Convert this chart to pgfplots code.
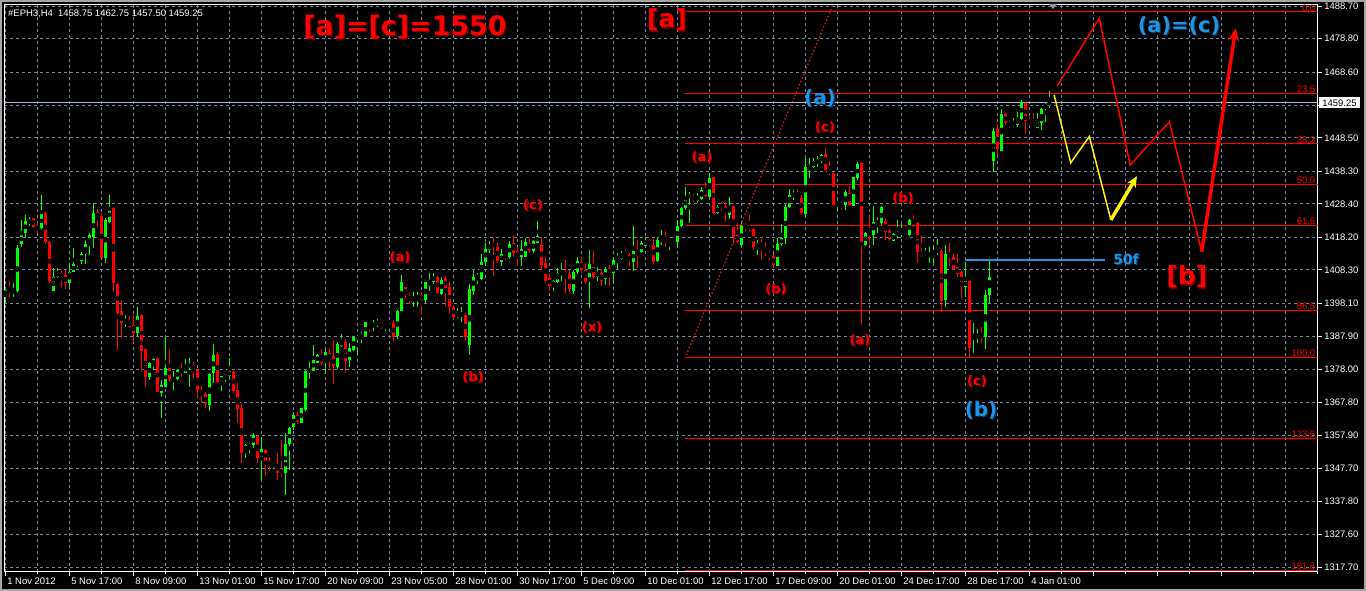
\documentclass[border=0pt]{standalone}
\usepackage{pgfplots}
\pgfplotsset{compat=1.18}
\usepackage{pgfplotstable}
\usepackage{fontspec}
\setmainfont{Liberation Sans}
\newfontfamily\wavefont{DejaVu Sans}
\usetikzlibrary{arrows.meta}

\definecolor{bull}{RGB}{0,255,0}
\definecolor{bear}{RGB}{255,0,0}
\definecolor{gridc}{RGB}{119,136,153}
\definecolor{wave}{RGB}{30,150,225}
\definecolor{waveshade}{RGB}{10,50,90}
\definecolor{shade}{RGB}{100,0,0}
\definecolor{bidc}{RGB}{170,185,205}
\definecolor{trendc}{RGB}{210,30,30}

% H4 bars, EPH3: index, open, high, low, close
\pgfplotstableread{
i o h l c
0 1400.6 1403.1 1398.1 1402.1
1 1402.3 1405.0 1400.1 1401.6
2 1401.3 1404.4 1399.9 1402.1
3 1401.9 1415.8 1401.6 1414.8
4 1416.1 1423.5 1415.3 1419.2
5 1419.4 1425.0 1417.9 1423.2
6 1422.4 1424.3 1421.6 1423.8
7 1424.0 1424.2 1421.1 1421.4
8 1421.4 1422.4 1419.4 1420.7
9 1420.9 1431.1 1420.6 1425.5
10 1425.7 1426.0 1416.3 1416.9
11 1416.9 1417.2 1404.4 1405.0
12 1401.9 1408.7 1401.9 1406.0
13 1406.0 1408.7 1405.7 1407.7
14 1407.2 1408.2 1403.1 1406.0
15 1406.7 1408.2 1402.3 1404.4
16 1404.2 1410.5 1403.1 1407.7
17 1407.7 1414.8 1407.7 1410.0
18 1410.0 1411.3 1409.2 1411.0
19 1411.1 1413.8 1410.0 1413.1
20 1413.1 1417.4 1410.2 1416.1
21 1415.8 1419.4 1412.8 1418.9
22 1418.4 1428.5 1414.8 1425.5
23 1425.9 1426.7 1421.4 1424.2
24 1424.7 1425.5 1411.8 1412.0
25 1412.0 1424.0 1410.5 1423.5
26 1422.9 1431.1 1422.6 1427.3
27 1427.0 1427.3 1401.6 1404.2
28 1403.9 1404.2 1383.8 1395.2
29 1395.7 1399.1 1387.4 1392.0
30 1392.2 1394.5 1390.9 1392.4
31 1392.4 1394.2 1390.4 1390.9
32 1391.5 1394.5 1386.4 1389.1
33 1388.9 1397.0 1387.9 1394.2
34 1394.5 1394.8 1377.2 1383.6
35 1384.0 1384.2 1372.5 1375.7
36 1375.5 1380.3 1374.7 1380.0
37 1379.3 1381.3 1377.7 1381.0
38 1381.4 1381.5 1370.9 1371.1
39 1370.8 1374.7 1363.2 1373.2
40 1372.7 1387.7 1372.5 1378.5
41 1378.5 1384.0 1374.0 1375.1
42 1374.7 1377.5 1371.8 1375.4
43 1374.9 1378.2 1374.7 1377.7
44 1377.9 1379.8 1375.7 1376.9
45 1376.9 1381.0 1376.7 1379.0
46 1378.4 1381.3 1372.7 1379.7
47 1379.3 1380.3 1375.2 1377.7
48 1377.7 1377.9 1369.4 1371.8
49 1371.8 1372.9 1367.8 1370.4
50 1370.4 1371.1 1366.1 1367.4
51 1367.1 1376.9 1365.3 1376.5
52 1376.7 1385.7 1373.7 1382.3
53 1382.6 1383.1 1373.9 1374.2
54 1373.9 1375.9 1371.4 1375.9
55 1375.2 1376.5 1374.2 1376.5
56 1375.9 1381.3 1375.2 1377.5
57 1377.2 1378.0 1370.6 1371.3
58 1371.6 1373.9 1361.7 1365.9
59 1366.1 1367.8 1349.3 1352.6
60 1353.2 1355.2 1350.8 1354.9
61 1354.4 1355.4 1352.6 1354.9
62 1354.9 1358.6 1353.9 1357.9
63 1357.7 1357.9 1349.3 1351.0
64 1350.5 1357.4 1344.2 1353.6
65 1353.4 1353.6 1345.4 1350.1
66 1350.0 1351.1 1347.1 1348.5
67 1348.9 1349.8 1347.5 1349.1
68 1348.8 1352.6 1344.2 1346.5
69 1347.1 1356.4 1345.2 1346.5
70 1346.5 1358.4 1339.6 1355.2
71 1355.2 1360.5 1347.3 1360.0
72 1360.3 1364.8 1359.5 1364.0
73 1364.0 1364.8 1361.3 1362.0
74 1361.7 1366.1 1361.7 1366.1
75 1365.6 1377.8 1365.3 1377.5
76 1377.5 1380.3 1374.9 1377.8
77 1377.5 1385.4 1377.5 1380.8
78 1380.0 1382.6 1379.8 1382.3
79 1382.0 1384.1 1379.3 1379.8
80 1380.0 1383.8 1377.2 1383.2
81 1382.8 1384.4 1377.8 1381.3
82 1382.0 1386.9 1373.5 1379.0
83 1378.6 1386.4 1378.0 1385.7
84 1385.1 1388.7 1384.7 1386.6
85 1386.3 1387.1 1376.9 1380.6
86 1380.8 1385.9 1378.8 1384.6
87 1383.8 1388.1 1383.6 1387.7
88 1386.9 1388.4 1382.3 1388.1
89 1387.7 1389.4 1385.9 1388.7
90 1388.1 1392.4 1388.1 1392.4
91 1392.2 1392.4 1389.4 1390.8
92 1391.0 1393.0 1389.7 1392.4
93 1391.8 1393.2 1390.8 1392.5
94 1392.4 1392.4 1390.3 1390.8
95 1390.8 1391.8 1389.7 1391.2
96 1390.6 1392.2 1389.9 1391.8
97 1392.0 1393.0 1386.7 1387.9
98 1388.1 1396.0 1387.1 1395.7
99 1395.8 1406.7 1395.6 1404.6
100 1402.9 1403.1 1399.6 1400.6
101 1400.6 1401.1 1397.9 1399.1
102 1399.1 1401.6 1396.9 1400.1
103 1399.4 1401.6 1397.1 1400.6
104 1400.6 1401.6 1394.5 1399.1
105 1399.1 1404.7 1398.3 1404.7
106 1403.2 1407.3 1401.9 1404.9
107 1404.7 1407.2 1404.0 1406.2
108 1406.2 1406.4 1400.9 1401.1
109 1400.9 1406.0 1400.6 1405.2
110 1405.7 1406.4 1397.3 1402.6
111 1402.9 1405.0 1394.8 1397.1
112 1397.1 1397.6 1393.2 1393.8
113 1394.3 1396.6 1393.5 1394.8
114 1394.3 1397.1 1392.5 1394.8
115 1394.5 1395.0 1386.7 1387.7
116 1385.4 1404.0 1382.3 1402.4
117 1401.9 1408.2 1400.6 1406.2
118 1406.0 1407.2 1404.0 1406.4
119 1405.5 1413.1 1405.2 1410.8
120 1410.8 1416.4 1409.5 1414.6
121 1414.3 1417.2 1413.5 1415.9
122 1416.6 1417.9 1406.4 1415.1
123 1415.1 1416.6 1410.3 1411.1
124 1410.8 1414.5 1409.3 1413.1
125 1413.1 1413.5 1411.3 1412.5
126 1412.3 1417.2 1411.5 1416.2
127 1416.4 1418.9 1412.1 1413.3
128 1414.0 1415.1 1409.5 1412.1
129 1412.3 1417.4 1409.5 1414.5
130 1412.3 1417.9 1412.1 1416.9
131 1416.4 1417.9 1413.5 1414.3
132 1414.1 1417.4 1413.3 1417.1
133 1416.6 1423.2 1416.4 1418.6
134 1415.9 1418.2 1408.2 1409.8
135 1410.3 1412.1 1404.2 1405.0
136 1405.9 1407.2 1401.9 1403.2
137 1403.2 1405.2 1401.9 1405.0
138 1404.7 1408.7 1404.4 1407.2
139 1406.7 1410.3 1405.0 1407.7
140 1407.7 1411.3 1400.9 1406.4
141 1407.0 1408.2 1401.6 1402.3
142 1401.9 1408.2 1400.9 1407.7
143 1407.7 1412.3 1407.0 1411.0
144 1410.8 1412.1 1407.4 1408.2
145 1408.2 1410.5 1404.0 1404.7
146 1405.7 1414.3 1396.6 1410.1
147 1410.3 1414.1 1405.4 1406.0
148 1406.0 1409.1 1405.0 1407.7
149 1407.4 1408.2 1403.4 1405.0
150 1405.4 1409.1 1403.7 1408.4
151 1408.7 1409.8 1403.4 1407.2
152 1407.2 1412.3 1404.4 1411.3
153 1411.3 1413.5 1408.4 1412.5
154 1411.5 1414.1 1411.3 1413.1
155 1413.3 1414.5 1412.3 1412.5
156 1412.8 1413.5 1409.5 1411.1
157 1410.8 1421.6 1408.0 1414.1
158 1414.5 1417.4 1408.7 1413.5
159 1413.8 1417.2 1413.5 1416.6
160 1415.5 1418.4 1415.1 1417.4
161 1417.4 1417.6 1415.3 1415.9
162 1415.9 1417.6 1410.1 1410.8
163 1411.1 1418.2 1410.8 1417.4
164 1417.2 1420.4 1415.9 1417.6
165 1417.7 1420.2 1415.1 1416.9
166 1417.2 1417.6 1414.3 1417.4
167 1417.2 1417.9 1416.9 1417.6
168 1416.9 1423.5 1415.3 1421.6
169 1421.6 1427.3 1421.4 1427.0
170 1427.0 1433.6 1426.5 1430.1
171 1430.1 1432.1 1422.7 1431.4
172 1430.8 1431.4 1429.0 1429.6
173 1429.4 1431.6 1428.8 1430.6
174 1429.8 1433.4 1429.6 1432.6
175 1432.8 1434.9 1430.4 1430.8
176 1430.6 1437.9 1430.4 1436.2
177 1436.5 1436.7 1425.3 1425.5
178 1425.5 1428.0 1425.3 1427.5
179 1427.7 1429.0 1426.3 1427.0
180 1427.7 1429.0 1423.0 1425.5
181 1425.0 1430.6 1423.7 1427.7
182 1427.7 1427.7 1416.1 1418.4
183 1418.9 1422.7 1416.5 1416.9
184 1415.8 1421.9 1415.3 1421.6
185 1421.9 1422.7 1420.2 1421.2
186 1421.6 1425.0 1420.2 1420.7
187 1420.6 1420.9 1414.3 1415.1
188 1415.1 1417.4 1412.8 1416.5
189 1416.5 1418.2 1411.3 1415.6
190 1414.5 1416.9 1412.5 1413.8
191 1413.5 1414.1 1411.3 1412.5
192 1412.5 1413.1 1408.7 1409.8
193 1409.5 1417.9 1409.3 1416.1
194 1416.1 1422.3 1415.6 1417.9
195 1417.9 1428.3 1416.3 1427.3
196 1427.3 1432.8 1427.0 1431.1
197 1430.8 1432.6 1429.6 1431.4
198 1431.1 1432.8 1429.8 1430.1
199 1430.1 1431.1 1425.0 1425.5
200 1425.3 1442.3 1424.5 1439.7
201 1439.2 1442.3 1436.2 1440.2
202 1439.7 1442.3 1439.2 1441.3
203 1440.7 1443.0 1439.7 1442.0
204 1441.3 1443.6 1440.7 1443.3
205 1443.6 1445.3 1438.5 1438.7
206 1438.7 1441.3 1437.2 1437.9
207 1437.9 1438.2 1427.7 1428.0
208 1428.0 1429.8 1426.3 1429.4
209 1429.0 1429.4 1426.5 1427.7
210 1428.0 1432.6 1426.5 1432.1
211 1431.6 1433.8 1427.7 1428.0
212 1427.7 1436.5 1427.7 1436.5
213 1436.2 1441.0 1435.7 1440.5
214 1440.7 1441.0 1391.5 1416.1
215 1415.8 1419.9 1415.6 1419.6
216 1419.6 1424.5 1416.3 1419.2
217 1418.9 1427.7 1415.8 1423.0
218 1422.5 1424.5 1419.5 1423.0
219 1422.7 1427.7 1421.9 1427.3
220 1423.3 1424.0 1417.4 1419.9
221 1420.2 1420.6 1417.2 1417.6
222 1417.2 1419.4 1417.0 1419.2
223 1418.6 1423.5 1417.9 1419.9
224 1419.2 1422.2 1418.4 1419.9
225 1418.6 1418.8 1418.4 1418.7
226 1418.9 1423.7 1418.6 1423.5
227 1423.7 1425.0 1421.2 1421.6
228 1422.6 1423.0 1410.3 1413.8
229 1413.8 1418.9 1412.3 1412.5
230 1412.3 1414.8 1412.1 1412.8
231 1412.3 1415.3 1410.3 1413.5
232 1413.5 1415.3 1409.8 1413.8
233 1413.8 1417.6 1412.8 1414.3
234 1414.1 1414.3 1395.5 1398.9
235 1399.1 1415.8 1397.1 1413.1
236 1413.1 1416.4 1409.3 1412.3
237 1412.3 1413.1 1408.2 1408.4
238 1409.0 1413.1 1406.2 1407.0
239 1407.7 1408.0 1399.6 1403.1
240 1403.1 1410.8 1400.1 1405.0
241 1405.0 1405.2 1381.8 1384.4
242 1387.7 1392.2 1382.8 1388.7
243 1387.9 1390.1 1385.9 1388.4
244 1388.4 1391.0 1385.9 1387.9
245 1387.7 1402.1 1384.1 1400.6
246 1400.6 1411.1 1397.9 1406.0
247 1441.6 1451.4 1438.2 1450.7
248 1451.1 1452.7 1443.3 1445.0
249 1444.6 1457.2 1444.6 1455.8
250 1455.8 1456.0 1452.4 1452.9
251 1453.4 1453.7 1451.4 1452.1
252 1452.1 1454.5 1451.7 1453.1
253 1452.4 1456.5 1451.7 1454.2
254 1454.2 1460.0 1454.0 1459.5
255 1459.2 1459.5 1449.7 1453.7
256 1453.7 1454.8 1452.1 1452.4
257 1452.7 1456.0 1451.4 1451.9
258 1451.4 1456.0 1451.4 1453.4
259 1453.1 1457.5 1450.9 1457.2
260 1458.0 1459.0 1453.4 1458.2
261 1458.75 1462.75 1457.50 1459.25
}\candles

% text with a dark offset copy behind it
\newcommand{\wlab}[6]{% colour, shade, x, y, size, text
  \node[text=#2, inner sep=0pt, font=\wavefont\bfseries\fontsize{#5}{#5}\selectfont] at ({#3+1.3},{#4+1.3}) {#6};
  \node[text=#1, inner sep=0pt, font=\wavefont\bfseries\fontsize{#5}{#5}\selectfont] at (#3,#4) {#6};}

\begin{document}
\begin{tikzpicture}
\path[use as bounding box, fill=black] (0,0) rectangle (1366bp,591bp);
\begin{axis}[
    at={(4bp,19.4bp)}, anchor=south west,
    scale only axis, width=1313.7bp, height=566.6bp,
    xmin=-0.325, xmax=328.1, ymin=1316.3, ymax=1489.0,
    axis background/.style={fill=black},
    axis line style={white, line width=1bp},
    xtick={0,16,...,320},
    xticklabels={1 Nov 2012,5 Nov 17:00,8 Nov 09:00,13 Nov 01:00,15 Nov 17:00,
      20 Nov 09:00,23 Nov 05:00,28 Nov 01:00,30 Nov 17:00,5 Dec 09:00,
      10 Dec 01:00,12 Dec 17:00,17 Dec 09:00,20 Dec 01:00,24 Dec 17:00,
      28 Dec 17:00,4 Jan 01:00,,,,},
    minor xtick={8,24,...,328},
    ytick={1317.7,1327.6,1337.8,1347.7,1357.9,1367.8,1378.0,1387.9,1398.1,
      1408.3,1418.2,1428.4,1438.3,1448.5,1458.5,1468.6,1478.8,1488.7},
    yticklabels={1317.70,1327.60,1337.80,1347.70,1357.90,1367.80,1378.00,
      1387.90,1398.10,1408.30,1418.20,1428.40,1438.30,1448.50,,1468.60,
      1478.80,1488.70},
    xtick pos=left, ytick pos=right, yticklabel pos=right,
    tick align=outside,
    major tick length=4bp, minor tick length=2.5bp,
    tick style={white, line width=0.8bp},
    xmajorgrids, xminorgrids, ymajorgrids,
    grid style={gridc, dash pattern=on 3bp off 3bp, line width=0.8bp},
    minor grid style={gridc, dash pattern=on 3bp off 3bp, line width=0.8bp},
    tick label style={text=white, font=\fontsize{9.5}{10}\selectfont},
    xticklabel style={anchor=north west, xshift=-1.5bp, yshift=1bp},
    yticklabel style={anchor=west, xshift=-1bp},
  ]
  % fibonacci levels
  \addplot[bear, line width=1bp] coordinates {(169.9,1486.87) (328.1,1486.87)};
  \addplot[bear, line width=1bp] coordinates {(169.9,1462.03) (328.1,1462.03)};
  \addplot[bear, line width=1bp] coordinates {(169.9,1446.66) (328.1,1446.66)};
  \addplot[bear, line width=1bp] coordinates {(169.9,1434.25) (328.1,1434.25)};
  \addplot[bear, line width=1bp] coordinates {(169.9,1421.83) (328.1,1421.83)};
  \addplot[bear, line width=1bp] coordinates {(169.9,1395.83) (328.1,1395.83)};
  \addplot[bear, line width=1bp] coordinates {(169.9,1381.62) (328.1,1381.62)};
  \addplot[bear, line width=1bp] coordinates {(169.9,1356.78) (328.1,1356.78)};
  \addplot[bear, line width=1bp] coordinates {(169.9,1316.57) (328.1,1316.57)};
  % trend line and bid line
  \addplot[trendc, line width=1.2bp, dash pattern=on 1.5bp off 2.2bp] coordinates {(170.2,1382.3) (206.9,1489.0)};
  \addplot[bidc, line width=0.8bp] coordinates {(-0.325,1459.25) (328.1,1459.25)};
  % wicks
  \addplot[only marks, mark=none, forget plot,
    restrict expr to domain={\thisrow{c}-\thisrow{o}}{0:1000},
    error bars/.cd, y dir=both, y explicit, error mark=none,
    error bar style={bull, line width=1bp}]
    table[x=i, y expr={0.5*(\thisrow{h}+\thisrow{l})}, y error expr={0.5*(\thisrow{h}-\thisrow{l})}] {\candles};
  \addplot[only marks, mark=none, forget plot,
    restrict expr to domain={\thisrow{c}-\thisrow{o}}{-1000:-0.001},
    error bars/.cd, y dir=both, y explicit, error mark=none,
    error bar style={bear, line width=1bp}]
    table[x=i, y expr={0.5*(\thisrow{h}+\thisrow{l})}, y error expr={0.5*(\thisrow{h}-\thisrow{l})}] {\candles};
  % bodies
  \addplot[only marks, mark=none, forget plot,
    restrict expr to domain={\thisrow{c}-\thisrow{o}}{0:1000},
    error bars/.cd, y dir=both, y explicit, error mark=none,
    error bar style={bull, line width=3.2bp}]
    table[x=i, y expr={0.5*(\thisrow{o}+\thisrow{c})}, y error expr={max(0.5*abs(\thisrow{c}-\thisrow{o}),0.17)}] {\candles};
  \addplot[only marks, mark=none, forget plot,
    restrict expr to domain={\thisrow{c}-\thisrow{o}}{-1000:-0.001},
    error bars/.cd, y dir=both, y explicit, error mark=none,
    error bar style={bear, line width=3.2bp}]
    table[x=i, y expr={0.5*(\thisrow{o}+\thisrow{c})}, y error expr={max(0.5*abs(\thisrow{c}-\thisrow{o}),0.17)}] {\candles};
  % forecast paths
  \addplot[bear, line width=1.5bp] coordinates {(263.0,1464.3) (273.5,1484.95) (281.2,1440.2) (291.0,1453.4) (299.1,1413.8)};
  \addplot[bear, line width=3.5bp, -{Stealth[length=13bp,width=11bp]}] coordinates {(299.1,1413.8) (307.6,1482.0)};
  \addplot[yellow, line width=1.5bp] coordinates {(262.2,1461.6) (266.35,1440.9) (271.0,1448.9) (276.4,1423.5)};
  \addplot[yellow, line width=3.5bp, -{Stealth[length=11bp,width=10bp]}] coordinates {(276.4,1423.5) (282.9,1436.8)};
  % 50f level
  \addplot[wave, line width=2bp] coordinates {(239.9,1411.3) (274.9,1411.3)};
\end{axis}

\begin{scope}[x=1bp, y=-1bp, yshift=591bp]
  % window frame
  \draw[gray!70, line width=2bp] (1,1) rectangle (1365,590);
  \fill[gray!80] (1049,4) -- (1057,4) -- (1053,9) -- cycle;
  % header
  \node[anchor=west, text=white, inner sep=0pt, font=\fontsize{9.5}{10}\selectfont] at (8,14)
    {\#EPH3,H4\ \ 1458.75 1462.75 1457.50 1459.25};
  % current price box
  \node[fill=white, text=black, inner sep=0pt, minimum width=41bp, minimum height=11bp,
    font=\fontsize{9.5}{10}\selectfont] at (1339.5,103) {1459.25};
  % fibonacci labels
  \foreach \yy/\tt in {12/0.0, 93.5/23.6, 143.9/38.2, 184.7/50.0, 225.4/61.8,
      310.7/86.5, 357.3/100.0, 438.1/123.6, 570.7/161.8}
    \node[anchor=south east, text=bear, inner sep=0.6pt, font=\fontsize{9.5}{10}\selectfont] at (1316,\yy) {\tt};
  % wave labels
  \wlab{bear}{shade}{405}{27}{27}{[a]=[c]=1550}
  \wlab{bear}{shade}{667}{20}{25}{[a]}
  \wlab{bear}{shade}{1187}{277}{25}{[b]}
  \wlab{wave}{waveshade}{1179}{26}{21}{(a)=(c)}
  \wlab{wave}{waveshade}{820}{98}{20}{(a)}
  \wlab{wave}{waveshade}{981}{410}{20}{(b)}
  \wlab{wave}{waveshade}{1126}{259}{14}{50f}
  \wlab{bear}{shade}{400}{257}{13}{(a)}
  \wlab{bear}{shade}{473}{377}{13}{(b)}
  \wlab{bear}{shade}{533}{205}{13}{(c)}
  \wlab{bear}{shade}{592}{327}{13}{(x)}
  \wlab{bear}{shade}{702}{157}{13}{(a)}
  \wlab{bear}{shade}{776}{289}{13}{(b)}
  \wlab{bear}{shade}{825}{127}{13}{(c)}
  \wlab{bear}{shade}{860}{340}{13}{(a)}
  \wlab{bear}{shade}{903}{198}{13}{(b)}
  \wlab{bear}{shade}{977}{381}{13}{(c)}
\end{scope}
\end{tikzpicture}
\end{document}
